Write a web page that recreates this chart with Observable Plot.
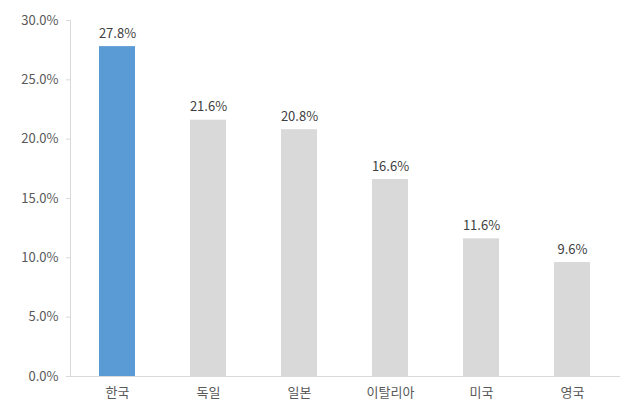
<!DOCTYPE html>
<html>
<head>
<meta charset="utf-8">
<script src="https://cdn.jsdelivr.net/npm/d3@7"></script>
<script src="https://cdn.jsdelivr.net/npm/@observablehq/plot@0.6"></script>
<style>
html, body { margin: 0; padding: 0; background: #fff; }
</style>
</head>
<body>
<div id="chart"></div>
<script>
const countries = ["한국", "독일", "일본", "이탈리아", "미국", "영국"];
const values = [27.8, 21.6, 20.8, 16.6, 11.6, 9.6];
const yTicks = [0, 5, 10, 15, 20, 25, 30];

const data = countries.map((c, i) => ({country: c, value: values[i], highlight: i === 0}));

const chart = Plot.plot({
  width: 638,
  height: 412,
  marginLeft: 70,
  marginRight: 18,
  marginTop: 20,
  marginBottom: 36,
  style: {fontFamily: "'Noto Sans CJK KR', 'Noto Sans', sans-serif", fontSize: "13px", background: "#fff"},
  x: {domain: countries, paddingInner: 0.6, paddingOuter: 0.3, label: null},
  y: {domain: [0, 30], label: null},
  marks: [
    Plot.barY(data, {x: "country", y: "value", fill: d => d.highlight ? "#5b9bd5" : "#d9d9d9"}),
    Plot.ruleY([0], {stroke: "#d9d9d9", strokeWidth: 1}),
    Plot.axisY({ticks: yTicks, tickFormat: d => d.toFixed(1) + "%", tickSize: 4, tickPadding: 8, stroke: "#d9d9d9", fill: "#595959", label: null, fontSize: 13}),
    Plot.frame({anchor: "left", stroke: "#d9d9d9"}),
    Plot.axisX({tickSize: 0, tickPadding: 11, fill: "#595959", label: null, fontSize: 13}),
    Plot.text(data, {x: "country", y: "value", text: d => d.value.toFixed(1) + "%", dy: -13, fill: "#404040", fontSize: 13})
  ]
});
document.getElementById("chart").appendChild(chart);
</script>
</body>
</html>
